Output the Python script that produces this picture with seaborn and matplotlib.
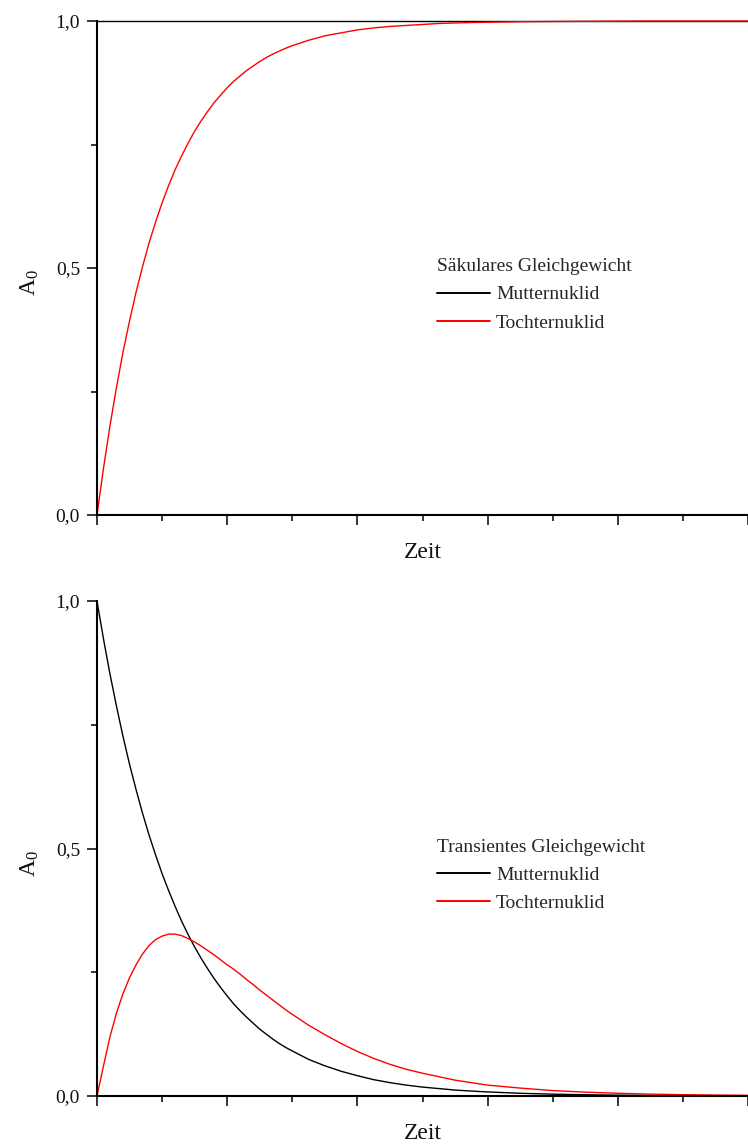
import matplotlib
matplotlib.use("Agg")
import matplotlib.pyplot as plt
from matplotlib.ticker import MultipleLocator, FixedLocator, FuncFormatter
import seaborn as sns
import pandas as pd

# time axis (arbitrary units)
zeit = [0.0, 0.1, 0.2, 0.3, 0.4, 0.5, 0.6, 0.7, 0.8, 0.9,
        1.0, 1.1, 1.2, 1.3, 1.4, 1.5, 1.6, 1.7, 1.8, 1.9,
        2.0, 2.1, 2.2, 2.3, 2.4, 2.5, 2.6, 2.7, 2.8, 2.9,
        3.0, 3.25, 3.5, 3.75, 4.0, 4.25, 4.5, 4.75, 5.0, 5.25,
        5.5, 5.75, 6.0, 6.5, 7.0, 7.5, 8.0, 8.5, 9.0, 9.5, 10.0]

# secular equilibrium
saek_mutter = [1.0] * len(zeit)
saek_tochter = [0.0, 0.095, 0.181, 0.259, 0.330, 0.393, 0.451, 0.503, 0.551, 0.593,
                0.632, 0.667, 0.699, 0.727, 0.753, 0.777, 0.798, 0.817, 0.835, 0.850,
                0.865, 0.878, 0.889, 0.900, 0.909, 0.918, 0.926, 0.933, 0.939, 0.945,
                0.950, 0.961, 0.970, 0.976, 0.982, 0.986, 0.989, 0.991, 0.993, 0.995,
                0.996, 0.997, 0.9975, 0.9985, 0.999, 0.9994, 0.9997, 1.0, 1.0, 1.0, 1.0]

# transient equilibrium
trans_mutter = [1.0, 0.923, 0.852, 0.787, 0.726, 0.670, 0.619, 0.571, 0.527, 0.487,
                0.449, 0.415, 0.383, 0.353, 0.326, 0.301, 0.278, 0.257, 0.237, 0.219,
                0.202, 0.186, 0.172, 0.159, 0.147, 0.135, 0.125, 0.115, 0.106, 0.098,
                0.091, 0.074, 0.061, 0.050, 0.041, 0.033, 0.027, 0.022, 0.018, 0.015,
                0.012, 0.010, 0.0082, 0.0055, 0.0037, 0.0025, 0.0017, 0.0011, 0.0007,
                0.0005, 0.0003]
trans_tochter = [0.0, 0.061, 0.120, 0.168, 0.207, 0.239, 0.265, 0.287, 0.304, 0.316,
                 0.323, 0.327, 0.327, 0.324, 0.318, 0.311, 0.303, 0.294, 0.285, 0.275,
                 0.265, 0.256, 0.246, 0.235, 0.225, 0.214, 0.204, 0.194, 0.184, 0.174,
                 0.165, 0.143, 0.124, 0.106, 0.090, 0.076, 0.064, 0.054, 0.046, 0.039,
                 0.032, 0.027, 0.022, 0.016, 0.011, 0.0078, 0.0055, 0.0038, 0.0027,
                 0.0019, 0.0013]

serien = ["Mutternuklid", "Tochternuklid"]
farben = {"Mutternuklid": "#000000", "Tochternuklid": "#ff0000"}
titel = ["Säkulares Gleichgewicht", "Transientes Gleichgewicht"]
y_ticks = [0.0, 0.5, 1.0]

sns.set_theme(style="ticks")
plt.rcParams["font.family"] = ["Liberation Serif", "DejaVu Serif"]
plt.rcParams["mathtext.fontset"] = "custom"
plt.rcParams["mathtext.rm"] = "Liberation Serif"

W, H = 748, 1146
fig = plt.figure(figsize=(W / 100, H / 100), dpi=100)

def frac_box(left, top, right, bottom):
    return [left / W, 1 - bottom / H, (right - left) / W, (bottom - top) / H]

ax_top = fig.add_axes(frac_box(97, 21, 748, 515))
ax_bot = fig.add_axes(frac_box(97, 601, 748, 1096))

panels = [
    (ax_top, saek_mutter, saek_tochter, titel[0]),
    (ax_bot, trans_mutter, trans_tochter, titel[1]),
]

for ax, mutter, tochter, ttl in panels:
    df = pd.DataFrame({
        "Zeit": zeit * 2,
        "A0": mutter + tochter,
        "Nuklid": [serien[0]] * len(zeit) + [serien[1]] * len(zeit),
    })
    sns.lineplot(data=df, x="Zeit", y="A0", hue="Nuklid", palette=farben,
                 hue_order=serien, linewidth=1.0, ax=ax, clip_on=False,
                 legend=True)

    ax.set_xlim(0, 10)
    ax.set_ylim(0, 1)
    for side in ("top", "right"):
        ax.spines[side].set_visible(False)
    for side in ("left", "bottom"):
        ax.spines[side].set_linewidth(1.5)
        ax.spines[side].set_color("black")

    ax.xaxis.set_major_locator(MultipleLocator(2))
    ax.xaxis.set_minor_locator(MultipleLocator(1))
    ax.xaxis.set_major_formatter(FuncFormatter(lambda v, p: ""))
    ax.yaxis.set_major_locator(FixedLocator(y_ticks))
    ax.yaxis.set_minor_locator(FixedLocator([0.25, 0.75]))
    ax.yaxis.set_major_formatter(
        FuncFormatter(lambda v, p: f"{v:.1f}".replace(".", ",")))
    ax.tick_params(which="major", direction="out", length=7.2, width=1.1,
                   color="black", labelsize=14, pad=5, labelcolor="#111111")
    ax.tick_params(which="minor", direction="out", length=4.3, width=1.1,
                   color="black")

    ax.set_xlabel("Zeit", fontsize=17, color="#111111")
    ax.xaxis.label.set_va("center")
    ax.xaxis.set_label_coords(0.5, -37 / 494)
    ax.set_ylabel(r"$\mathregular{A_0}$", fontsize=17, color="#111111")
    ax.yaxis.label.set_va("center")
    ax.yaxis.label.set_ha("center")
    ax.yaxis.set_label_coords(-67 / 651, 0.47)

    leg = ax.legend(title=ttl, loc="upper left",
                    bbox_to_anchor=(0.522, 0.52), frameon=False,
                    fontsize=14, title_fontsize=14, handlelength=2.75,
                    handletextpad=0.3, labelspacing=0.55, borderpad=0,
                    borderaxespad=0, alignment="left")
    for line in leg.get_lines():
        line.set_linewidth(1.4)

fig.savefig("out.png", dpi=100)
